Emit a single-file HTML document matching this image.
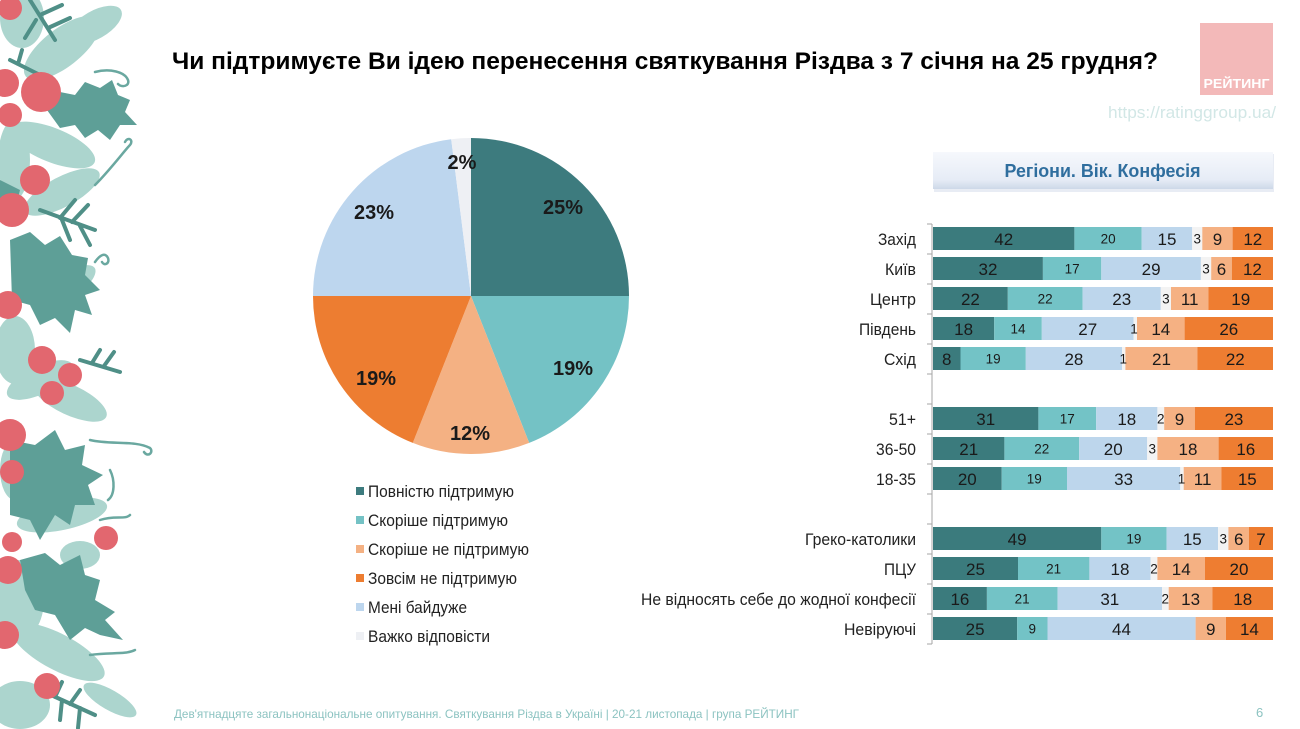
<!DOCTYPE html>
<html>
<head>
<meta charset="utf-8">
<style>
  html,body{margin:0;padding:0;background:#fff;}
  body{width:1300px;height:729px;overflow:hidden;}
  svg{display:block;}
  text{font-family:"Liberation Sans","Noto Sans CJK SC",sans-serif;}
</style>
</head>
<body>
<svg width="1300" height="729" viewBox="0 0 1300 729" xmlns="http://www.w3.org/2000/svg">
  <defs>
    <linearGradient id="hdr" x1="0" y1="0" x2="0" y2="1">
      <stop offset="0" stop-color="#f6f8fc"/>
      <stop offset="0.75" stop-color="#e6ecf6"/>
      <stop offset="1" stop-color="#cdd8e8"/>
    </linearGradient>
  </defs>
  <rect width="1300" height="729" fill="#ffffff"/>

  <!-- ===== Left decoration ===== -->
  <g>
    <g fill="#acd5ce">
      <ellipse cx="62" cy="48" rx="46" ry="19" transform="rotate(-38 62 48)"/>
      <ellipse cx="22" cy="18" rx="22" ry="30"/>
      <ellipse cx="95" cy="25" rx="30" ry="14" transform="rotate(-30 95 25)"/>
      <ellipse cx="52" cy="145" rx="46" ry="17" transform="rotate(22 52 145)"/>
      <ellipse cx="62" cy="192" rx="42" ry="15" transform="rotate(-28 62 192)"/>
      <ellipse cx="14" cy="160" rx="16" ry="40"/>
      <ellipse cx="70" cy="285" rx="30" ry="12" transform="rotate(-35 70 285)"/>
      <ellipse cx="15" cy="350" rx="20" ry="34"/>
      <ellipse cx="70" cy="400" rx="40" ry="15" transform="rotate(25 70 400)"/>
      <ellipse cx="40" cy="380" rx="36" ry="14" transform="rotate(-25 40 380)"/>
      <ellipse cx="62" cy="515" rx="46" ry="15" transform="rotate(-12 62 515)"/>
      <ellipse cx="80" cy="555" rx="20" ry="14"/>
      <ellipse cx="18" cy="600" rx="26" ry="40"/>
      <ellipse cx="58" cy="652" rx="52" ry="18" transform="rotate(28 58 652)"/>
      <ellipse cx="20" cy="705" rx="30" ry="24"/>
      <ellipse cx="15" cy="470" rx="15" ry="30"/>
      <ellipse cx="110" cy="700" rx="30" ry="10" transform="rotate(30 110 700)"/>
    </g>
    <g stroke="#4f8f87" stroke-width="4" stroke-linecap="round" fill="none">
      <path d="M30 0 L55 40 M40 15 L62 5 M48 28 L70 18 M36 20 L25 38"/>
      <path d="M40 210 L95 230 M60 218 L75 200 M72 222 L88 205 M62 220 L70 240 M80 226 L90 245"/>
      <path d="M80 360 L120 372 M92 363 L100 350 M104 366 L114 352"/>
      <path d="M40 690 L95 715 M55 697 L62 682 M70 704 L80 690 M62 700 L60 720 M80 708 L78 728"/>
      <path d="M10 60 L40 75 M18 64 L22 50"/>
    </g>
    <g fill="#5e9f97">
      <polygon points="47,110 60,92 75,95 85,82 100,88 112,80 118,95 130,100 125,112 137,125 120,125 110,140 98,130 85,138 75,125 60,128"/>
      <polygon points="10,240 30,232 45,245 60,236 72,255 88,258 85,275 100,290 85,295 92,315 75,310 70,333 55,318 40,325 30,305 12,300"/>
      <polygon points="10,440 35,445 55,430 65,450 85,445 82,465 103,475 88,485 95,505 75,505 70,525 55,515 40,540 30,520 10,515"/>
      <polygon points="20,560 45,553 60,565 80,555 85,575 100,580 95,600 115,612 105,620 123,640 100,635 85,628 70,640 55,615 35,610 25,590"/>
      <polygon points="0,180 20,190 15,210 0,215"/>
    </g>
    <g stroke="#6aa8a0" stroke-width="2.5" fill="none" stroke-linecap="round">
      <path d="M95 72 C110 68 125 72 128 80 C130 86 122 88 118 84"/>
      <path d="M95 185 C110 170 125 150 130 145 C134 140 128 136 125 142"/>
      <path d="M95 262 C100 255 105 252 108 258 C110 264 104 266 102 262"/>
      <path d="M90 440 C110 445 135 440 150 448 C154 452 148 458 144 452"/>
      <path d="M100 520 C115 515 125 520 130 515"/>
      <path d="M90 655 C110 652 125 655 135 650"/>
      <path d="M110 470 C115 480 115 495 108 500"/>
    </g>
    <g fill="#e2676f">
      <circle cx="10" cy="8" r="12"/>
      <circle cx="41" cy="92" r="20"/>
      <circle cx="5" cy="83" r="14"/>
      <circle cx="10" cy="115" r="12"/>
      <circle cx="35" cy="180" r="15"/>
      <circle cx="12" cy="210" r="17"/>
      <circle cx="8" cy="305" r="14"/>
      <circle cx="42" cy="360" r="14"/>
      <circle cx="70" cy="375" r="12"/>
      <circle cx="52" cy="393" r="12"/>
      <circle cx="10" cy="435" r="16"/>
      <circle cx="12" cy="472" r="12"/>
      <circle cx="106" cy="538" r="12"/>
      <circle cx="12" cy="542" r="10"/>
      <circle cx="8" cy="570" r="14"/>
      <circle cx="5" cy="635" r="14"/>
      <circle cx="47" cy="686" r="13"/>
    </g>
  </g>

  <!-- ===== Title ===== -->
  <text x="172" y="69" font-size="24" font-weight="bold" fill="#000" textLength="986" lengthAdjust="spacingAndGlyphs">Чи підтримуєте Ви ідею перенесення святкування Різдва з 7 січня на 25 грудня?</text>

  <!-- ===== Logo ===== -->
  <rect x="1200" y="23" width="73" height="72" fill="#f3b9b9"/>
  <text x="1236.5" y="88" font-size="12.5" font-weight="bold" fill="#ffffff" text-anchor="middle" textLength="66" lengthAdjust="spacingAndGlyphs">РЕЙТИНГ</text>
  <text x="1108" y="118" font-size="17" fill="#d2e7e6" textLength="168" lengthAdjust="spacingAndGlyphs">https://ratinggroup.ua/</text>

  <!-- ===== Pie ===== -->
  <g>
    <path d="M471 296 L471 138 A158 158 0 0 1 629 296 Z" fill="#3d7b7e"/>
    <path d="M471 296 L629 296 A158 158 0 0 1 529.2 442.9 Z" fill="#74c2c5"/>
    <path d="M471 296 L529.2 442.9 A158 158 0 0 1 412.8 442.9 Z" fill="#f4b183"/>
    <path d="M471 296 L412.8 442.9 A158 158 0 0 1 313 296 Z" fill="#ed7d31"/>
    <path d="M471 296 L313 296 A158 158 0 0 1 451.2 139.2 Z" fill="#bdd6ee"/>
    <path d="M471 296 L451.2 139.2 A158 158 0 0 1 471 138 Z" fill="#eef0f4"/>
  </g>
  <g font-size="20" font-weight="bold" fill="#1a1a1a" text-anchor="middle">
    <text x="563" y="214">25%</text>
    <text x="573" y="375">19%</text>
    <text x="470" y="440">12%</text>
    <text x="376" y="385">19%</text>
    <text x="374" y="219">23%</text>
    <text x="462" y="169">2%</text>
  </g>

  <!-- ===== Legend ===== -->
  <g font-size="16.5" fill="#222" lengthAdjust="spacingAndGlyphs">
    <rect x="356" y="487" width="8" height="8" fill="#3d7b7e"/>
    <text x="368" y="497" textLength="146" lengthAdjust="spacingAndGlyphs">Повністю підтримую</text>
    <rect x="356" y="516" width="8" height="8" fill="#74c2c5"/>
    <text x="368" y="526" textLength="140" lengthAdjust="spacingAndGlyphs">Скоріше підтримую</text>
    <rect x="356" y="545" width="8" height="8" fill="#f4b183"/>
    <text x="368" y="555" textLength="161" lengthAdjust="spacingAndGlyphs">Скоріше не підтримую</text>
    <rect x="356" y="574" width="8" height="8" fill="#ed7d31"/>
    <text x="368" y="584" textLength="149" lengthAdjust="spacingAndGlyphs">Зовсім не підтримую</text>
    <rect x="356" y="603" width="8" height="8" fill="#bdd6ee"/>
    <text x="368" y="613" textLength="99" lengthAdjust="spacingAndGlyphs">Мені байдуже</text>
    <rect x="356" y="632" width="8" height="8" fill="#eef0f4"/>
    <text x="368" y="642" textLength="122" lengthAdjust="spacingAndGlyphs">Важко відповісти</text>
  </g>

  <!-- ===== Header box ===== -->
  <rect x="934" y="154" width="340" height="38" fill="#d8e0ec" opacity="0.6"/>
  <rect x="933" y="152" width="340" height="37" fill="url(#hdr)"/>
  <text x="1102.5" y="177" font-size="18.5" font-weight="bold" fill="#2f6e9e" text-anchor="middle" textLength="196" lengthAdjust="spacingAndGlyphs">Регіони. Вік. Конфесія</text>

  <!-- ===== Axis ===== -->
  <g stroke="#a6a6a6" stroke-width="1">
    <line x1="932" y1="224" x2="932" y2="644"/>
    <line x1="927" y1="224" x2="932" y2="224"/>
    <line x1="927" y1="254" x2="932" y2="254"/>
    <line x1="927" y1="284" x2="932" y2="284"/>
    <line x1="927" y1="314" x2="932" y2="314"/>
    <line x1="927" y1="344" x2="932" y2="344"/>
    <line x1="927" y1="374" x2="932" y2="374"/>
    <line x1="927" y1="404" x2="932" y2="404"/>
    <line x1="927" y1="434" x2="932" y2="434"/>
    <line x1="927" y1="464" x2="932" y2="464"/>
    <line x1="927" y1="494" x2="932" y2="494"/>
    <line x1="927" y1="524" x2="932" y2="524"/>
    <line x1="927" y1="554" x2="932" y2="554"/>
    <line x1="927" y1="584" x2="932" y2="584"/>
    <line x1="927" y1="614" x2="932" y2="614"/>
    <line x1="927" y1="644" x2="932" y2="644"/>
  </g>

  <!-- ===== Category labels ===== -->
  <g font-size="16.5" fill="#222" text-anchor="end">
    <text x="916" y="245" textLength="38" lengthAdjust="spacingAndGlyphs">Захід</text>
    <text x="916" y="275" textLength="31" lengthAdjust="spacingAndGlyphs">Київ</text>
    <text x="916" y="305" textLength="46" lengthAdjust="spacingAndGlyphs">Центр</text>
    <text x="916" y="335" textLength="57" lengthAdjust="spacingAndGlyphs">Південь</text>
    <text x="916" y="365" textLength="32" lengthAdjust="spacingAndGlyphs">Схід</text>
    <text x="916" y="425" textLength="27" lengthAdjust="spacingAndGlyphs">51+</text>
    <text x="916" y="455" textLength="40" lengthAdjust="spacingAndGlyphs">36-50</text>
    <text x="916" y="485" textLength="40" lengthAdjust="spacingAndGlyphs">18-35</text>
    <text x="916" y="545" textLength="111" lengthAdjust="spacingAndGlyphs">Греко-католики</text>
    <text x="916" y="575" textLength="32" lengthAdjust="spacingAndGlyphs">ПЦУ</text>
    <text x="916" y="605" textLength="275" lengthAdjust="spacingAndGlyphs">Не відносять себе до жодної конфесії</text>
    <text x="916" y="635" textLength="72" lengthAdjust="spacingAndGlyphs">Невіруючі</text>
  </g>

  <!-- ===== Bars ===== -->
  <g>
    <rect x="933" y="227" width="141.4" height="23" fill="#3b7b7d"/>
    <rect x="1074.4" y="227" width="67.3" height="23" fill="#73c3c6"/>
    <rect x="1141.7" y="227" width="50.5" height="23" fill="#bdd6ec"/>
    <rect x="1192.2" y="227" width="10.1" height="23" fill="#f3f3f3"/>
    <rect x="1202.3" y="227" width="30.3" height="23" fill="#f5b183"/>
    <rect x="1232.6" y="227" width="40.4" height="23" fill="#ee7d31"/>
  </g>
  <g>
    <rect x="933" y="257" width="109.9" height="23" fill="#3b7b7d"/>
    <rect x="1042.9" y="257" width="58.4" height="23" fill="#73c3c6"/>
    <rect x="1101.3" y="257" width="99.6" height="23" fill="#bdd6ec"/>
    <rect x="1200.9" y="257" width="10.3" height="23" fill="#f3f3f3"/>
    <rect x="1211.2" y="257" width="20.6" height="23" fill="#f5b183"/>
    <rect x="1231.8" y="257" width="41.2" height="23" fill="#ee7d31"/>
  </g>
  <g>
    <rect x="933" y="287" width="74.8" height="23" fill="#3b7b7d"/>
    <rect x="1007.8" y="287" width="74.8" height="23" fill="#73c3c6"/>
    <rect x="1082.6" y="287" width="78.2" height="23" fill="#bdd6ec"/>
    <rect x="1160.8" y="287" width="10.2" height="23" fill="#f3f3f3"/>
    <rect x="1171" y="287" width="37.4" height="23" fill="#f5b183"/>
    <rect x="1208.4" y="287" width="64.6" height="23" fill="#ee7d31"/>
  </g>
  <g>
    <rect x="933" y="317" width="61.2" height="23" fill="#3b7b7d"/>
    <rect x="994.2" y="317" width="47.6" height="23" fill="#73c3c6"/>
    <rect x="1041.8" y="317" width="91.8" height="23" fill="#bdd6ec"/>
    <rect x="1133.6" y="317" width="3.4" height="23" fill="#f3f3f3"/>
    <rect x="1137" y="317" width="47.6" height="23" fill="#f5b183"/>
    <rect x="1184.6" y="317" width="88.4" height="23" fill="#ee7d31"/>
  </g>
  <g>
    <rect x="933" y="347" width="27.5" height="23" fill="#3b7b7d"/>
    <rect x="960.5" y="347" width="65.3" height="23" fill="#73c3c6"/>
    <rect x="1025.8" y="347" width="96.2" height="23" fill="#bdd6ec"/>
    <rect x="1122" y="347" width="3.4" height="23" fill="#f3f3f3"/>
    <rect x="1125.4" y="347" width="72.1" height="23" fill="#f5b183"/>
    <rect x="1197.5" y="347" width="75.5" height="23" fill="#ee7d31"/>
  </g>
  <g>
    <rect x="933" y="407" width="105.4" height="23" fill="#3b7b7d"/>
    <rect x="1038.4" y="407" width="57.8" height="23" fill="#73c3c6"/>
    <rect x="1096.2" y="407" width="61.2" height="23" fill="#bdd6ec"/>
    <rect x="1157.4" y="407" width="6.8" height="23" fill="#f3f3f3"/>
    <rect x="1164.2" y="407" width="30.6" height="23" fill="#f5b183"/>
    <rect x="1194.8" y="407" width="78.2" height="23" fill="#ee7d31"/>
  </g>
  <g>
    <rect x="933" y="437" width="71.4" height="23" fill="#3b7b7d"/>
    <rect x="1004.4" y="437" width="74.8" height="23" fill="#73c3c6"/>
    <rect x="1079.2" y="437" width="68" height="23" fill="#bdd6ec"/>
    <rect x="1147.2" y="437" width="10.2" height="23" fill="#f3f3f3"/>
    <rect x="1157.4" y="437" width="61.2" height="23" fill="#f5b183"/>
    <rect x="1218.6" y="437" width="54.4" height="23" fill="#ee7d31"/>
  </g>
  <g>
    <rect x="933" y="467" width="68.7" height="23" fill="#3b7b7d"/>
    <rect x="1001.7" y="467" width="65.3" height="23" fill="#73c3c6"/>
    <rect x="1067" y="467" width="113.3" height="23" fill="#bdd6ec"/>
    <rect x="1180.3" y="467" width="3.4" height="23" fill="#f3f3f3"/>
    <rect x="1183.7" y="467" width="37.8" height="23" fill="#f5b183"/>
    <rect x="1221.5" y="467" width="51.5" height="23" fill="#ee7d31"/>
  </g>
  <g>
    <rect x="933" y="527" width="168.3" height="23" fill="#3b7b7d"/>
    <rect x="1101.3" y="527" width="65.3" height="23" fill="#73c3c6"/>
    <rect x="1166.6" y="527" width="51.5" height="23" fill="#bdd6ec"/>
    <rect x="1218.1" y="527" width="10.3" height="23" fill="#f3f3f3"/>
    <rect x="1228.4" y="527" width="20.6" height="23" fill="#f5b183"/>
    <rect x="1249" y="527" width="24" height="23" fill="#ee7d31"/>
  </g>
  <g>
    <rect x="933" y="557" width="85" height="23" fill="#3b7b7d"/>
    <rect x="1018" y="557" width="71.4" height="23" fill="#73c3c6"/>
    <rect x="1089.4" y="557" width="61.2" height="23" fill="#bdd6ec"/>
    <rect x="1150.6" y="557" width="6.8" height="23" fill="#f3f3f3"/>
    <rect x="1157.4" y="557" width="47.6" height="23" fill="#f5b183"/>
    <rect x="1205" y="557" width="68" height="23" fill="#ee7d31"/>
  </g>
  <g>
    <rect x="933" y="587" width="53.9" height="23" fill="#3b7b7d"/>
    <rect x="986.9" y="587" width="70.7" height="23" fill="#73c3c6"/>
    <rect x="1057.6" y="587" width="104.4" height="23" fill="#bdd6ec"/>
    <rect x="1162" y="587" width="6.7" height="23" fill="#f3f3f3"/>
    <rect x="1168.7" y="587" width="43.8" height="23" fill="#f5b183"/>
    <rect x="1212.5" y="587" width="60.5" height="23" fill="#ee7d31"/>
  </g>
  <g>
    <rect x="933" y="617" width="84.2" height="23" fill="#3b7b7d"/>
    <rect x="1017.2" y="617" width="30.3" height="23" fill="#73c3c6"/>
    <rect x="1047.5" y="617" width="148.1" height="23" fill="#bdd6ec"/>
    <rect x="1195.6" y="617" width="30.3" height="23" fill="#f5b183"/>
    <rect x="1225.9" y="617" width="47.1" height="23" fill="#ee7d31"/>
  </g>

  <!-- ===== Bar values (large) ===== -->
  <g font-size="17" fill="#1a1a1a" text-anchor="middle">
    <text x="1003.7" y="245">42</text><text x="1167" y="245">15</text><text x="1217.5" y="245">9</text><text x="1252.8" y="245">12</text>
    <text x="988" y="275">32</text><text x="1151.1" y="275">29</text><text x="1221.5" y="275">6</text><text x="1252.4" y="275">12</text>
    <text x="970.4" y="305">22</text><text x="1121.7" y="305">23</text><text x="1189.7" y="305">11</text><text x="1240.7" y="305">19</text>
    <text x="963.6" y="335">18</text><text x="1087.7" y="335">27</text><text x="1160.8" y="335">14</text><text x="1228.8" y="335">26</text>
    <text x="946.7" y="365">8</text><text x="1073.9" y="365">28</text><text x="1161.5" y="365">21</text><text x="1235.3" y="365">22</text>
    <text x="985.7" y="425">31</text><text x="1126.8" y="425">18</text><text x="1179.5" y="425">9</text><text x="1233.9" y="425">23</text>
    <text x="968.7" y="455">21</text><text x="1113.2" y="455">20</text><text x="1188" y="455">18</text><text x="1245.8" y="455">16</text>
    <text x="967.3" y="485">20</text><text x="1123.6" y="485">33</text><text x="1202.6" y="485">11</text><text x="1247.3" y="485">15</text>
    <text x="1017.1" y="545">49</text><text x="1192.3" y="545">15</text><text x="1238.7" y="545">6</text><text x="1261" y="545">7</text>
    <text x="975.5" y="575">25</text><text x="1120" y="575">18</text><text x="1181.2" y="575">14</text><text x="1239" y="575">20</text>
    <text x="959.9" y="605">16</text><text x="1109.8" y="605">31</text><text x="1190.6" y="605">13</text><text x="1242.7" y="605">18</text>
    <text x="975.1" y="635">25</text><text x="1121.5" y="635">44</text><text x="1210.7" y="635">9</text><text x="1249.4" y="635">14</text>
  </g>
  <!-- ===== Bar values (small) ===== -->
  <g font-size="13.5" fill="#1a1a1a" text-anchor="middle">
    <text x="1108.1" y="243.5">20</text><text x="1197.3" y="243.5">3</text>
    <text x="1072.1" y="273.5">17</text><text x="1206" y="273.5">3</text>
    <text x="1045.2" y="303.5">22</text><text x="1165.9" y="303.5">3</text>
    <text x="1018" y="333.5">14</text><text x="1134" y="333.5">1</text>
    <text x="993.1" y="363.5">19</text><text x="1123.2" y="363.5">1</text>
    <text x="1067.3" y="423.5">17</text><text x="1160.8" y="423.5">2</text>
    <text x="1041.8" y="453.5">22</text><text x="1152.3" y="453.5">3</text>
    <text x="1034.3" y="483.5">19</text><text x="1181.5" y="483.5">1</text>
    <text x="1133.9" y="543.5">19</text><text x="1223.2" y="543.5">3</text>
    <text x="1053.7" y="573.5">21</text><text x="1154" y="573.5">2</text>
    <text x="1022.2" y="603.5">21</text><text x="1165.3" y="603.5">2</text>
    <text x="1032.3" y="633.5">9</text>
  </g>

  <!-- ===== Footer ===== -->
  <text x="174" y="718" font-size="12" fill="#8cc3c1" textLength="625" lengthAdjust="spacingAndGlyphs">Дев'ятнадцяте загальнонаціональне опитування. Святкування Різдва в Україні | 20-21 листопада | група РЕЙТИНГ</text>
  <text x="1256" y="717" font-size="13" fill="#8cc3c1">6</text>
</svg>
</body>
</html>
